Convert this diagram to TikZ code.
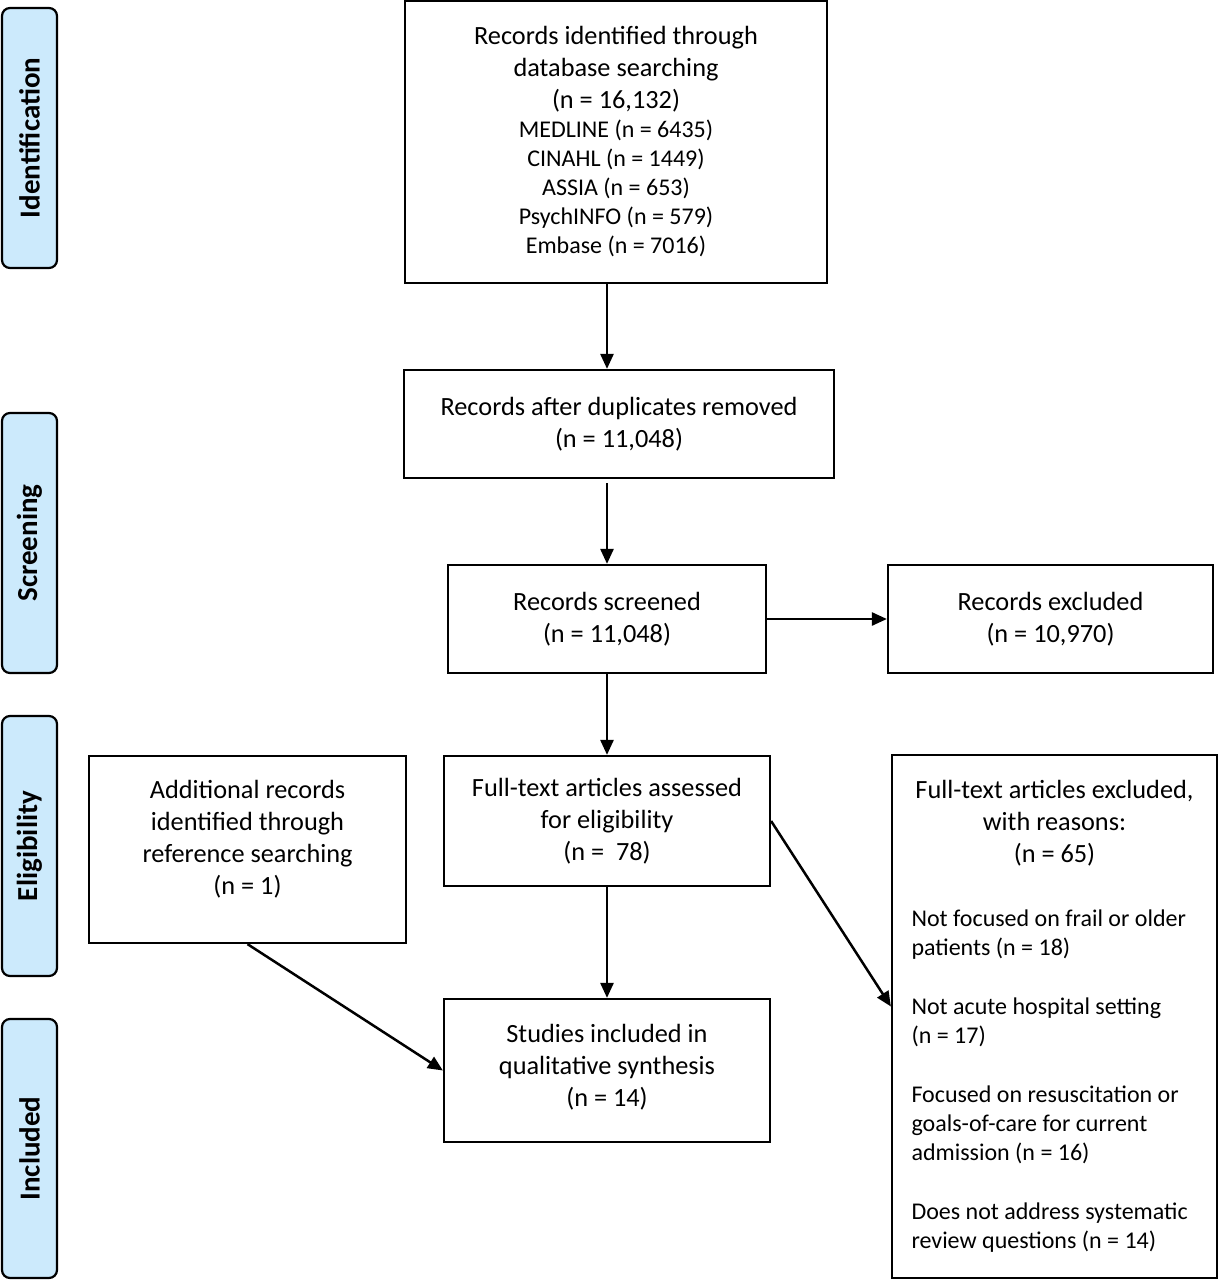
\documentclass[tikz,border=0pt]{standalone}
\usepackage{fontspec}
\setmainfont{Carlito}
\usetikzlibrary{arrows.meta,calc}
\definecolor{phase}{RGB}{204,234,252}
\newcommand{\cbox}[2]{\begin{minipage}{#1}\centering #2\end{minipage}}
\begin{document}
\begin{tikzpicture}[x=1pt,y=-1pt,
  box/.style={draw=black, line width=2.2pt, align=center, inner sep=0pt,
    font=\fontsize{26.3}{32}\selectfont},
  phaselbl/.style={draw=black, line width=2.2pt, fill=phase, rounded corners=8pt,
    minimum height=55pt, inner sep=0pt, rotate=90,
    font=\bfseries\fontsize{29}{32}\selectfont},
  arr/.style={line width=2.5pt, -{Triangle[length=15pt,width=13pt]}}]
\useasboundingbox (0,0) rectangle (1218,1280);

% phase labels
\node[phaselbl, minimum width=260pt] (pid) at (29.5,138) {Identification};
\node[phaselbl, minimum width=260pt] (psc) at (29.5,543) {Screening};
\node[phaselbl, minimum width=260pt] (pel) at (29.5,846) {Eligibility};
\node[phaselbl, minimum width=259pt] (pin) at (29.5,1148.5) {Included};

% boxes
\node[box, minimum width=422pt, minimum height=282pt] (top) at (616,142)
  {\cbox{400pt}{Records identified through\\ database searching\\ (n = 16,132)\par
   \fontsize{24}{29}\selectfont MEDLINE (n = 6435)\\ CINAHL (n = 1449)\\ ASSIA (n = 653)\\ PsychINFO (n = 579)\\ Embase (n = 7016)\par}};
\node[box, minimum width=430pt, minimum height=108pt] (dup) at (619,424)
  {\cbox{420pt}{Records after duplicates removed\\ (n = 11,048)}};
\node[box, minimum width=318pt, minimum height=108pt] (scr) at (607,619)
  {\cbox{300pt}{Records screened\\ (n = 11,048)}};
\node[box, minimum width=325pt, minimum height=108pt] (excl) at (1050.5,619)
  {\cbox{300pt}{Records excluded\\ (n = 10,970)}};
\node[box, minimum width=326pt, minimum height=130pt] (ft) at (607,821)
  {\cbox{310pt}{Full-text articles assessed\\ for eligibility\\ (n =\ \ 78)}};
\node[box, minimum width=317pt, minimum height=187pt] (add) at (247.5,849.5)
  {\cbox{300pt}{Additional records\\ identified through\\ reference searching\\ (n = 1)\par\vspace*{20pt}}};
\node[box, minimum width=326pt, minimum height=143pt] (incl) at (607,1070.5)
  {\cbox{310pt}{Studies included in\\ qualitative synthesis\\ (n = 14)\par\vspace*{6pt}}};
\node[box, minimum width=325pt, minimum height=523pt] (ftex) at (1054.5,1016.5)
  {\begin{minipage}{286pt}
   {\centering Full-text articles excluded,\\ with reasons:\\ (n = 65)\par}
   \raggedright\fontsize{24}{29}\selectfont\vspace{35pt}
   Not focused on frail or older\\ patients (n = 18)\par\vspace{30pt}
   Not acute hospital setting\\ (n = 17)\par\vspace{30pt}
   Focused on resuscitation or\\ goals-of-care for current\\ admission (n = 16)\par\vspace{30pt}
   Does not address systematic\\ review questions (n = 14)\par
   \end{minipage}};

% connectors
\draw[arr] (top.south -| scr.north) -- (dup.north -| scr.north);
\draw[arr, shorten <=4pt] (dup.south -| scr.north) -- (scr.north);
\draw[arr] (scr.east) -- (excl.west);
\draw[arr] (scr.south) -- (ft.north);
\draw[arr] (ft.south) -- (incl.north);
\draw[arr] (add.south) -- (incl.west);
\draw[arr] (ft.east) -- ([yshift=10pt]ftex.west);
\end{tikzpicture}
\end{document}
